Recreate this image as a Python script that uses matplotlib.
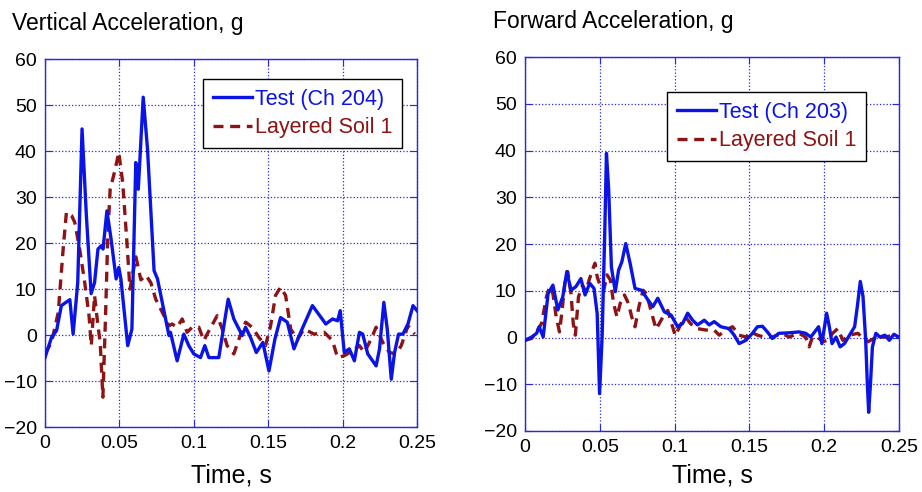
import numpy as np
import matplotlib
matplotlib.use('Agg')
import matplotlib.pyplot as plt

plt.rcParams['font.family'] = ['Liberation Sans', 'DejaVu Sans']

# Vertical acceleration - test (Ch 204)
vt_t = [0, 0.0044, 0.0078, 0.011, 0.0167, 0.0189, 0.022, 0.0249, 0.0278, 0.031,
        0.0333, 0.0356, 0.0378, 0.039, 0.0416, 0.0444, 0.0478, 0.0496, 0.051, 0.0556,
        0.0584, 0.061, 0.0627, 0.0638, 0.066, 0.0689, 0.0733, 0.0756, 0.0833, 0.0843,
        0.0888, 0.0933, 0.0966, 0.1, 0.1045, 0.1074, 0.1101, 0.1168, 0.1202, 0.1231,
        0.1269, 0.1325, 0.1348, 0.1381, 0.142, 0.1464, 0.1505, 0.1545, 0.1583, 0.1628,
        0.1673, 0.1718, 0.1797, 0.1831, 0.1887, 0.1932, 0.1966, 0.1984, 0.2011, 0.2045,
        0.2079, 0.2113, 0.2135, 0.2169, 0.2225, 0.2248, 0.2277, 0.23, 0.2327, 0.2349,
        0.2376, 0.2405, 0.2439, 0.2473, 0.25]
vt_g = [-4.9, -0.5, 1, 6.4, 7.7, 0.2, 11.4, 44.8, 26, 9,
        11.4, 18.7, 19.4, 18.7, 27, 20.9, 12.2, 14.7, 12.2, -2.3,
        1.3, 37.5, 31.7, 38.3, 51.7, 40.4, 14, 12.2, -0.1, 0.6,
        -5.6, 0.2, -2.3, -4.1, -4.9, -2.3, -4.9, -4.9, 2, 7.8,
        3.5, -0.1, 1.7, -0.5, -3.8, -1.6, -7.8, -0.9, 3.8, 2.8,
        -3, 0.6, 6.4, 4.9, 2.4, 3.5, 3.1, 5.3, -3.8, -3,
        -5.6, 0.6, 0.2, -4.1, -6.7, -3, 7.1, 1.3, -9.6, -3.8,
        0.2, 0.2, 2.4, 6.4, 5.3]

# Vertical acceleration - layered soil 1
vs_t = [0, 0.0044, 0.0089, 0.0122, 0.0144, 0.0178, 0.02, 0.0233, 0.0267, 0.0296,
        0.0311, 0.0333, 0.0356, 0.0371, 0.0389, 0.0407, 0.0422, 0.0438, 0.0467, 0.0496,
        0.0522, 0.0549, 0.0571, 0.0611, 0.0644, 0.0678, 0.0711, 0.0744, 0.0789, 0.0833,
        0.0854, 0.0888, 0.0922, 0.0955, 0.0989, 0.1034, 0.1067, 0.1101, 0.1157, 0.1191,
        0.1224, 0.1269, 0.1303, 0.1348, 0.1392, 0.1437, 0.1482, 0.1516, 0.1549, 0.1583,
        0.1617, 0.1651, 0.1696, 0.1741, 0.1809, 0.1876, 0.1932, 0.1966, 0.2011, 0.2068,
        0.2113, 0.2146, 0.2191, 0.2225, 0.227, 0.2315, 0.236, 0.2394, 0.2439, 0.2484]
vs_g = [-4, -1.6, 4.9, 18.7, 26.7, 26, 24.5, 18.7, 11.4, 4.2,
        -2.3, 8.6, 2, -1.6, -13.5, 4.2, 21.6, 31.7, 35.4, 39.7,
        33.2, 20.9, 10, 17, 12, 13, 11.4, 7.8, 4.9, 2,
        2.4, 1.7, 3.5, 0.6, 1.7, 1.7, -1.2, 0.9, 4.2, 1.3,
        -2.3, -4.1, -0.9, 2.8, 1.7, -0.5, -2.3, 2, 8.6, 10.4,
        8.6, 1.3, -0.9, 1.3, 0.2, 0.6, -1.2, -4.9, -4.5, -3.4,
        -2.3, -3.8, -0.9, 1.7, -1.6, -3.8, -4.1, -2.3, 2, 0.2]

# Forward acceleration - test (Ch 203)
ft_t = [0, 0.0044, 0.0077, 0.0094, 0.0121, 0.0154, 0.0186, 0.0219, 0.0252, 0.0279,
        0.0307, 0.034, 0.0373, 0.0401, 0.0432, 0.0461, 0.0482, 0.0498, 0.0515, 0.0533,
        0.0544, 0.0559, 0.0577, 0.0603, 0.0625, 0.0647, 0.0673, 0.0702, 0.0735, 0.0779,
        0.0822, 0.0854, 0.0887, 0.0931, 0.0976, 0.102, 0.1053, 0.1087, 0.112, 0.1153,
        0.1198, 0.1231, 0.1264, 0.1309, 0.1364, 0.1398, 0.1431, 0.1476, 0.152, 0.1553,
        0.1587, 0.162, 0.1653, 0.1696, 0.1764, 0.1831, 0.1876, 0.191, 0.1962, 0.1984,
        0.2016, 0.2034, 0.2052, 0.2079, 0.2106, 0.2135, 0.2169, 0.2203, 0.2221, 0.2241,
        0.2259, 0.2277, 0.2288, 0.2297, 0.2309, 0.2322, 0.2345, 0.2372, 0.2405, 0.2435,
        0.2466, 0.25]
ft_g = [-0.6, 0.1, 0.9, 2.3, 0.1, 9.4, 11.2, 5.9, 8.7, 14.1,
        10.1, 10.9, 12.6, 9.1, 11.6, 10.5, 5.1, -12, 0.1, 23,
        39.4, 31.6, 15.1, 9.8, 14.4, 16.2, 20.1, 15.9, 10.5, 10.1,
        8, 6.6, 8.4, 5.5, 4.8, 2.3, 3, 5.2, 3.7, 2.7,
        3.7, 2.7, 3.4, 2.3, 1.9, 0.5, -1.3, -0.6, 0.9, 2.3,
        2.4, 1.2, -0.2, 0.9, 1, 1.2, 0.9, 0.1, 2.3, -1.3,
        5.2, 2.3, -1.3, 0.1, -2, -1.3, 0.5, 2.3, 6.6, 12,
        8.8, -0.6, -9.9, -16, -9.9, -2, 0.9, 0.1, 0.5, -0.6,
        0.7, 0]

# Forward acceleration - layered soil 1
fs_t = [0, 0.0044, 0.0077, 0.011, 0.0143, 0.0164, 0.0186, 0.0208, 0.023, 0.0248,
        0.027, 0.0285, 0.0307, 0.0322, 0.0336, 0.0357, 0.0384, 0.0406, 0.0428, 0.045,
        0.0467, 0.0482, 0.0504, 0.0526, 0.0548, 0.057, 0.0592, 0.0614, 0.0636, 0.0664,
        0.0691, 0.0713, 0.0735, 0.0761, 0.0789, 0.0811, 0.0854, 0.0876, 0.092, 0.0954,
        0.0987, 0.1004, 0.1042, 0.1075, 0.1108, 0.1153, 0.1209, 0.1264, 0.1298, 0.1342,
        0.1387, 0.1431, 0.1476, 0.1509, 0.1553, 0.1598, 0.1653, 0.1718, 0.1764, 0.1831,
        0.1876, 0.1899, 0.1921, 0.1955, 0.1989, 0.2023, 0.2056, 0.209, 0.2124, 0.2169,
        0.2225, 0.2259, 0.2293, 0.2349, 0.2405, 0.2462, 0.25]
fs_g = [-0.6, -0.2, 1.2, 3, 8.7, 10.9, 9.4, 4.4, 1.2, 5.9,
        13, 14.1, 9.4, 3, 0.5, 8.7, 11.2, 9.8, 12.3, 14.4,
        15.9, 13, 10.9, 10.1, 13.4, 12.3, 7.3, 4.4, 7.3, 9.1,
        7.3, 4.4, 2.3, 6.6, 10.1, 9.4, 4.3, 1.8, 4.3, 5.8,
        2.2, 0.4, 2.9, 4.3, 2.9, 1.9, 1.6, 1.6, 0.5, 1.6,
        2.3, 0.5, 0.1, 1.2, 0.5, 0.1, 0.1, 0.9, 0.1, 0.9,
        0.1, -2, 0.1, 0.1, -0.9, -0.6, 0.9, 1.9, -0.6, 0.5,
        0.9, -0.2, -0.9, 0.1, 0.1, 0.5, 0.1]

titles = ['Vertical Acceleration, g', 'Forward Acceleration, g']
test_labels = ['Test (Ch 204)', 'Test (Ch 203)']
soil_label = 'Layered Soil 1'
xticks = [0, 0.05, 0.1, 0.15, 0.2, 0.25]
xtick_labels = ['0', '0.05', '0.1', '0.15', '0.2', '0.25']
yticks = [-20, -10, 0, 10, 20, 30, 40, 50, 60]

blue = '#0a14e6'
red = '#8c1414'
axis_blue = '#2828e0'

fig = plt.figure(figsize=(9.22, 4.92), dpi=100)
ax1 = fig.add_axes([0.0488, 0.132, 0.4035, 0.748])
ax2 = fig.add_axes([0.5695, 0.124, 0.4056, 0.760])

panels = [(ax1, vt_t, vt_g, vs_t, vs_g, (0.96, 0.946)),
          (ax2, ft_t, ft_g, fs_t, fs_g, (0.912, 0.906))]

for i, (ax, tt, tg, st, sg, leg_pos) in enumerate(panels):
    ax.plot(tt, tg, color=blue, lw=2.4, label=test_labels[i], zorder=3)
    ax.plot(st, sg, color=red, lw=2.4, ls=(0, (3.0, 2.0)), label=soil_label, zorder=2)
    ax.set_xlim(0, 0.25)
    ax.set_ylim(-20, 60)
    ax.set_xticks(xticks)
    ax.set_xticklabels(xtick_labels)
    ax.set_yticks(yticks)
    ax.grid(True, color=axis_blue, ls=':', lw=0.9)
    ax.set_axisbelow(True)
    for s in ax.spines.values():
        s.set_color(axis_blue)
        s.set_linewidth(1.0)
    ax.tick_params(direction='in', length=5, color=axis_blue, labelsize=14,
                   top=True, right=True, pad=6)
    # x label placed at same height for both panels
    pos = ax.get_position()
    fig.text((pos.x0 + pos.x1) / 2, 0.02, 'Time, s', fontsize=18,
             ha='center', va='baseline')
    ax.text(-0.09 if i == 0 else -0.085, 1.065, titles[i], transform=ax.transAxes,
            fontsize=16.5, ha='left', va='bottom')
    leg = ax.legend(loc='upper right', bbox_to_anchor=leg_pos, fontsize=15.5,
                    fancybox=False, framealpha=1, edgecolor='black',
                    handlelength=1.8, handletextpad=0.15, borderpad=0.45,
                    labelspacing=0.35, borderaxespad=0)
    leg.get_frame().set_linewidth(1.0)
    for txt, c in zip(leg.get_texts(), [blue, red]):
        txt.set_color(c)

fig.savefig('out.png', dpi=100)
